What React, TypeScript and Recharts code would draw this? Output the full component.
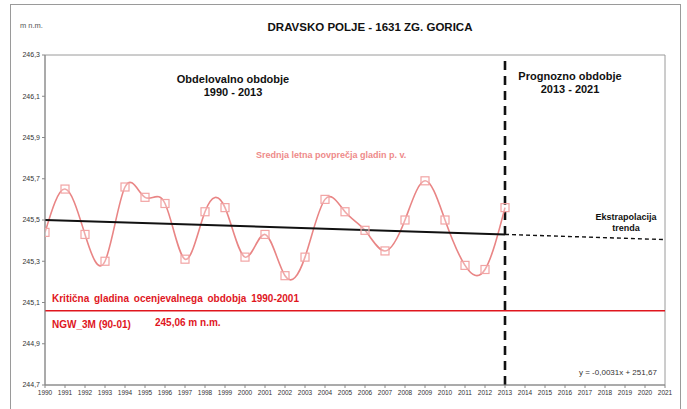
import { ComposedChart, Line, XAxis, YAxis, ReferenceLine, ReferenceArea } from "recharts";

const years = [1990, 1991, 1992, 1993, 1994, 1995, 1996, 1997, 1998, 1999, 2000, 2001, 2002, 2003, 2004, 2005, 2006, 2007, 2008, 2009, 2010, 2011, 2012, 2013];
const levels = [245.44, 245.65, 245.43, 245.3, 245.66, 245.61, 245.58, 245.31, 245.54, 245.56, 245.32, 245.43, 245.23, 245.32, 245.6, 245.54, 245.45, 245.35, 245.5, 245.69, 245.5, 245.28, 245.26, 245.56];

const trendYears = [1990, 2013];
const trendValues = [245.5, 245.43];
const forecastYears = [2013, 2021];
const forecastValues = [245.43, 245.405];

const criticalLevel = 245.06;
const splitYear = 2013;

const xTicks = [1990, 1991, 1992, 1993, 1994, 1995, 1996, 1997, 1998, 1999, 2000, 2001, 2002, 2003, 2004, 2005, 2006, 2007, 2008, 2009, 2010, 2011, 2012, 2013, 2014, 2015, 2016, 2017, 2018, 2019, 2020, 2021];
const yTicks = [244.7, 244.9, 245.1, 245.3, 245.5, 245.7, 245.9, 246.1, 246.3];

const levelData = years.map((year, i) => ({ year, level: levels[i] }));
const trendData = trendYears.map((year, i) => ({ year, trend: trendValues[i] }));
const forecastData = forecastYears.map((year, i) => ({ year, forecast: forecastValues[i] }));

const pink = "#e98585";
const red = "#e0161e";
const font = "Arial, 'Liberation Sans', sans-serif";

const SquareDot = (props: any) => {
  const { cx, cy } = props;
  if (cx == null || cy == null) return null;
  return <rect x={cx - 4} y={cy - 4} width={8} height={8} fill="#fff" fillOpacity={0.3} stroke="#f2a4a4" strokeWidth={1.2} />;
};

const txt = (style: React.CSSProperties): React.CSSProperties => ({
  position: "absolute",
  fontFamily: font,
  whiteSpace: "nowrap",
  lineHeight: 1.2,
  ...style,
});

export default function App() {
  return (
    <div style={{ position: "absolute", left: 0, top: 0, width: 687, height: 409, overflow: "hidden", background: "#fff" }}>
      <div style={{ position: "absolute", left: 10, top: 4, width: 669, height: 430, border: "1px solid #9a9a9a" }} />
      <div style={{ position: "absolute", left: 0, top: 0 }}>
        <ComposedChart width={687} height={409} margin={{ top: 55, right: 22, bottom: 0, left: 0 }}>
          <ReferenceArea x1={1990} x2={2021} y1={244.7} y2={246.3} fill="none" stroke="#9a9a9a" strokeWidth={1} ifOverflow="visible" />
          <XAxis
            type="number"
            dataKey="year"
            domain={[1990, 2021]}
            ticks={xTicks}
            interval={0}
            height={24}
            tickSize={3}
            tickLine={{ stroke: "#888" }}
            axisLine={{ stroke: "#888" }}
            tick={{ fontSize: 6.5, fill: "#333", fontFamily: font }}
            allowDataOverflow
          />
          <YAxis
            type="number"
            domain={[244.7, 246.3]}
            ticks={yTicks}
            interval={0}
            width={45}
            tickSize={3}
            tickLine={{ stroke: "#888" }}
            axisLine={{ stroke: "#888" }}
            tick={{ fontSize: 7, fill: "#333", fontFamily: font }}
            tickFormatter={(v: number) => v.toFixed(1).replace(".", ",")}
            allowDataOverflow
          />
          <ReferenceLine y={criticalLevel} stroke={red} strokeWidth={1.6} />
          <ReferenceLine x={splitYear} stroke="#111" strokeWidth={2.6} strokeDasharray="9 6" />
          <Line
            data={levelData}
            dataKey="level"
            type="natural"
            stroke={pink}
            strokeWidth={1.6}
            dot={<SquareDot />}
            activeDot={false}
            isAnimationActive={false}
          />
          <Line data={trendData} dataKey="trend" type="linear" stroke="#111" strokeWidth={2} dot={false} activeDot={false} isAnimationActive={false} />
          <Line data={forecastData} dataKey="forecast" type="linear" stroke="#111" strokeWidth={1.4} strokeDasharray="4 3" dot={false} activeDot={false} isAnimationActive={false} />
        </ComposedChart>
      </div>

      <div style={txt({ left: 20, top: 21, fontSize: 7.5, color: "#555" })}>m n.m.</div>
      <div style={txt({ left: 0, width: 740, top: 21, textAlign: "center", fontSize: 11.5, fontWeight: "bold", color: "#111" })}>DRAVSKO POLJE - 1631 ZG. GORICA</div>

      <div style={txt({ left: 133, width: 200, top: 73, textAlign: "center", fontSize: 11, fontWeight: "bold", color: "#111" })}>
        Obdelovalno obdobje
        <br />
        1990 - 2013
      </div>
      <div style={txt({ left: 470, width: 200, top: 70, textAlign: "center", fontSize: 11, fontWeight: "bold", color: "#111" })}>
        Prognozno obdobje
        <br />
        2013 - 2021
      </div>
      <div style={txt({ left: 256, top: 150, fontSize: 9, fontWeight: "bold", color: "#ee8a8a" })}>Srednja letna povprečja gladin p. v.</div>
      <div style={txt({ left: 571, width: 110, top: 212, textAlign: "center", fontSize: 9, fontWeight: "bold", color: "#111" })}>
        Ekstrapolacija
        <br />
        trenda
      </div>
      <div style={txt({ left: 52, top: 293, fontSize: 10, fontWeight: "bold", color: red, wordSpacing: 2 })}>Kritična gladina ocenjevalnega obdobja 1990-2001</div>
      <div style={txt({ left: 52, top: 319, fontSize: 10, fontWeight: "bold", color: red })}>NGW_3M (90-01)</div>
      <div style={txt({ left: 155, top: 317, fontSize: 10, fontWeight: "bold", color: red })}>245,06 m n.m.</div>
      <div style={txt({ left: 579, top: 368, fontSize: 8, color: "#333" })}>y = -0,0031x + 251,67</div>
    </div>
  );
}
